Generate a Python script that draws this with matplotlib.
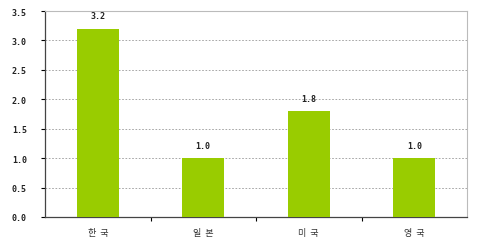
import matplotlib.pyplot as plt
import numpy as np

countries = ['한  국', '일  본', '미  국', '영  국']
values = [3.2, 1.0, 1.8, 1.0]
yticks = [0.0, 0.5, 1.0, 1.5, 2.0, 2.5, 3.0, 3.5]

fig = plt.figure(figsize=(4.8, 2.53), dpi=100)
ax = fig.add_axes([45/480, 1-218/253, 422/480, 206/253])

x = np.arange(len(countries))
bars = ax.bar(x, values, width=0.4, color='#99CC00', zorder=3)

for xi, v in zip(x, values):
    ax.annotate('%.1f' % v, (xi, v), xytext=(0, 6), textcoords='offset points',
                ha='center', va='bottom', fontsize=6, fontweight='bold',
                family='DejaVu Sans Mono', color='#222222', zorder=4)

ax.set_xlim(-0.5, len(countries) - 0.5)
ax.set_ylim(0, 3.5)
ax.set_yticks(yticks)
ax.set_yticklabels(['%.1f' % t for t in yticks], fontsize=6, fontweight='bold',
                   family='DejaVu Sans Mono', color='#222222')
ax.set_xticks(x)
ax.set_xticklabels(countries, fontsize=6.5, family='Noto Sans CJK KR', color='#333333')
ax.tick_params(axis='x', length=0, pad=8)
ax.tick_params(axis='y', length=3, width=0.8, pad=10)
# minor ticks between categories
ax.set_xticks(np.arange(0.5, len(countries) - 1, 1), minor=True)
ax.tick_params(axis='x', which='minor', length=3, width=0.8)

ax.yaxis.grid(True, linestyle=(0, (2, 2)), color='#999999', linewidth=0.6, zorder=1)
for s in ['top', 'right']:
    ax.spines[s].set_color('#bbbbbb')
    ax.spines[s].set_linewidth(0.8)
for s in ['left', 'bottom']:
    ax.spines[s].set_color('#444444')
    ax.spines[s].set_linewidth(0.9)

fig.savefig('out.png', dpi=100)
